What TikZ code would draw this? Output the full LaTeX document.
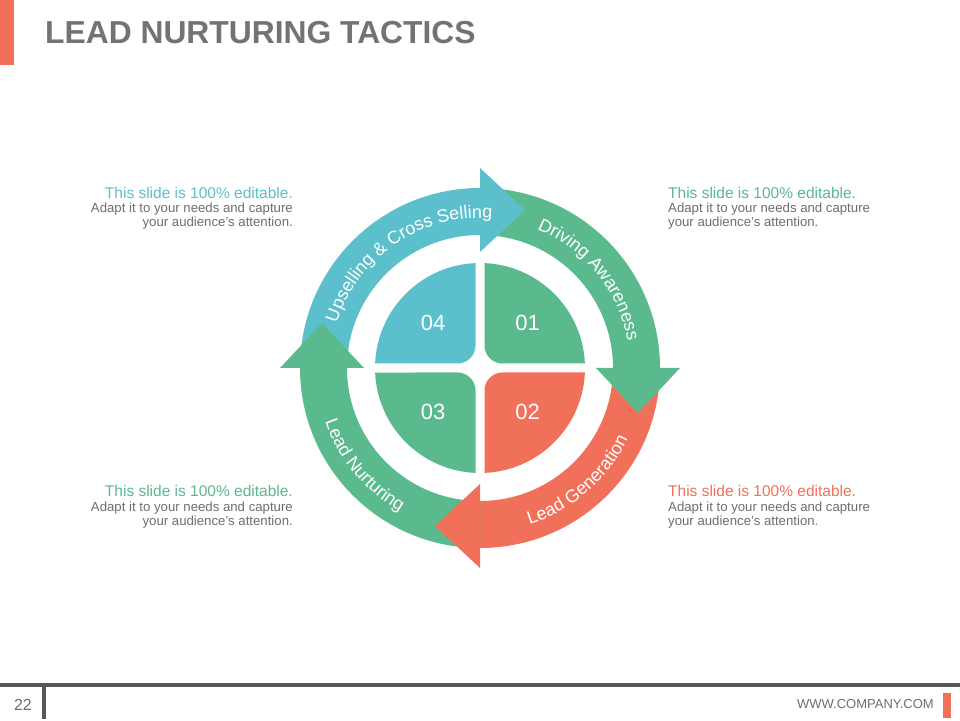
\documentclass[tikz,border=0pt]{standalone}
\usepackage{fontspec}
\setmainfont{Liberation Sans}
\usetikzlibrary{decorations.text}

\definecolor{grn}{HTML}{5BB98E}
\definecolor{blu}{HTML}{5BC0CC}
\definecolor{coral}{HTML}{F1705A}
\definecolor{ttl}{HTML}{767272}
\definecolor{txt}{HTML}{6E6E6E}
\definecolor{foot}{HTML}{595656}

\tikzset{
  num/.style={text=white, font=\fontsize{22}{22}\selectfont, inner sep=0pt},
  headline/.style={font=\fontsize{15.5}{17}\selectfont, inner sep=0pt},
  bodyline/.style={text=txt, font=\fontsize{13.2}{14}\selectfont, inner sep=0pt},
  ringtext/.style={decorate, decoration={text along path, text align=center, text color=white}},
}

\begin{document}
\begin{tikzpicture}[x=1pt,y=1pt]

\useasboundingbox (0,0) rectangle (960,720);
\fill[white] (0,0) rectangle (960,720);

% Title
\fill[coral] (0,655) rectangle (14,720);
\node[anchor=base west, inner sep=0pt, text=ttl, font=\fontsize{31.8}{32}\selectfont\bfseries] (title) at (45,676.7) {LEAD NURTURING TACTICS};

\coordinate (c) at (480,352);

% Ring
\begin{scope}[shift={(c)}]
\fill[blu] (180:180) arc[start angle=180,end angle=90,radius=180] -- (90:133) arc[start angle=90,end angle=180,radius=133] -- cycle;
\fill[grn] (90:180) arc[start angle=90,end angle=0,radius=180] -- (0:133) arc[start angle=0,end angle=90,radius=133] -- cycle;
\fill[coral] (0:180) arc[start angle=0,end angle=-90,radius=180] -- (-90:133) arc[start angle=-90,end angle=0,radius=133] -- cycle;
\fill[grn] (-90:180) arc[start angle=-90,end angle=-180,radius=180] -- (-180:133) arc[start angle=-180,end angle=-90,radius=133] -- cycle;

% Heads
\fill[blu] (90:116) -- (90:200) -- (45,158) -- cycle;
\fill[grn] (0:116) -- (0:200) -- (158,-45) -- cycle;
\fill[coral] (-90:116) -- (-90:200) -- (-45,-158) -- cycle;
\fill[grn] (180:116) -- (180:200) -- (-158,45) -- cycle;

% Ring labels
\path[ringtext, decoration={text={|\fontsize{18}{18}\selectfont|Upselling {\&} Cross Selling}}]
  (176:150) arc[start angle=176,end angle=72,radius=150];
\path[ringtext, decoration={text={|\fontsize{18}{18}\selectfont|Driving Awareness}}]
  (82:150) arc[start angle=82,end angle=-4,radius=150];
\path[ringtext, decoration={text={|\fontsize{18}{18}\selectfont|Lead Generation}}]
  (-96:164) arc[start angle=-96,end angle=-2,radius=164];
\path[ringtext, decoration={text={|\fontsize{18}{18}\selectfont|Lead Nurturing}}]
  (175:164) arc[start angle=175,end angle=265,radius=164];
\end{scope}

% Quadrants
\begin{scope}[shift={(c)}]
\fill[grn] (4.5,22.5) -- (4.5,104.9) arc[start angle=87.54,end angle=2.46,radius=105] -- (22.5,4.5) arc[start angle=270,end angle=180,radius=18] -- cycle;
\end{scope}
\begin{scope}[shift={(c)},rotate=-90]
\fill[coral] (4.5,22.5) -- (4.5,104.9) arc[start angle=87.54,end angle=2.46,radius=105] -- (22.5,4.5) arc[start angle=270,end angle=180,radius=18] -- cycle;
\end{scope}
\begin{scope}[shift={(c)},rotate=180]
\fill[grn] (4.5,22.5) -- (4.5,104.9) arc[start angle=87.54,end angle=2.46,radius=105] -- (22.5,4.5) arc[start angle=270,end angle=180,radius=18] -- cycle;
\end{scope}
\begin{scope}[shift={(c)},rotate=90]
\fill[blu] (4.5,22.5) -- (4.5,104.9) arc[start angle=87.54,end angle=2.46,radius=105] -- (22.5,4.5) arc[start angle=270,end angle=180,radius=18] -- cycle;
\end{scope}

\node[num] (n01) at (527.5,397) {01};
\node[num] (n02) at (527.5,308.5) {02};
\node[num] (n03) at (433,308.5) {03};
\node[num] (n04) at (433,397) {04};

% Text blocks
\node[headline, anchor=base east, text=blu] (tlh) at (293,521.5) {This slide is 100\% editable.};
\node[bodyline, anchor=base east] (tl1) at (293,507.5) {Adapt it to your needs and capture};
\node[bodyline, anchor=base east] (tl2) at (293,493.5) {your audience's attention.};

\node[headline, anchor=base west, text=grn] (trh) at (668,521.5) {This slide is 100\% editable.};
\node[bodyline, anchor=base west] (tr1) at (668,507.5) {Adapt it to your needs and capture};
\node[bodyline, anchor=base west] (tr2) at (668,493.5) {your audience's attention.};

\node[headline, anchor=base east, text=grn] (blh) at (293,223.3) {This slide is 100\% editable.};
\node[bodyline, anchor=base east] (bl1) at (293,208.8) {Adapt it to your needs and capture};
\node[bodyline, anchor=base east] (bl2) at (293,194.8) {your audience's attention.};

\node[headline, anchor=base west, text=coral] (brh) at (668,223.3) {This slide is 100\% editable.};
\node[bodyline, anchor=base west] (br1) at (668,208.8) {Adapt it to your needs and capture};
\node[bodyline, anchor=base west] (br2) at (668,194.8) {your audience's attention.};

% Footer
\fill[foot] (0,33.3) rectangle (960,37);
\fill[foot] (41.7,1) rectangle (45.7,37);
\fill[coral] (943.3,1.7) rectangle (950.7,26.7);
\node[anchor=base, inner sep=0pt, text=txt, font=\fontsize{16}{16}\selectfont] (page) at (23,10) {22};
\node[anchor=base east, inner sep=0pt, text=txt, font=\fontsize{13}{13}\selectfont] (web) at (934,11.7) {WWW.COMPANY.COM};

\end{tikzpicture}
\end{document}
